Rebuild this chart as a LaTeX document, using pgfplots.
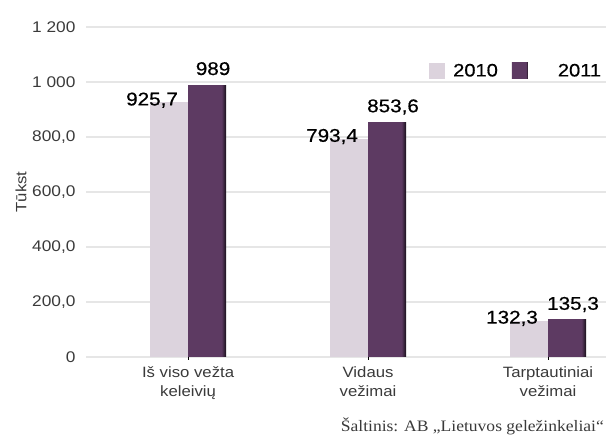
\documentclass[border=0pt]{standalone}
\usepackage{pgfplots}
\pgfplotsset{compat=1.18}
\usepackage{fontspec}
\setmainfont{Liberation Sans}[FakeStretch=1.12]
\newfontfamily\valfont{Liberation Sans}[FakeStretch=1.12, FakeBold=0.6]
\newfontfamily\srcfont{Liberation Serif}[FakeStretch=1.1]

\definecolor{cA}{HTML}{DCD3DD}
\definecolor{cB}{HTML}{5D3A62}
\definecolor{txt}{HTML}{3A3A3A}
\definecolor{gridc}{HTML}{E6E6E6}

% dark right edge of the 2011 bars
\pgfdeclarehorizontalshading{barB}{100bp}{color(0bp)=(cB); color(25bp)=(cB); color(69bp)=(cB); color(75bp)=(cB!25!black); color(100bp)=(cB!25!black)}

\pgfplotsset{
  sA/.style={fill=cA, draw=none, bar shift=-19bp,
    legend image code/.code={\fill[cA] (0bp,-8bp) rectangle (16bp,8bp);},
    every node near coord/.append style={anchor=base east, xshift=9bp, yshift=-3bp}},
  sB/.style={shading=barB, draw=none, bar shift=19bp,
    legend image code/.code={\fill[cB] (0bp,-8bp) rectangle (16bp,8bp);},
    every node near coord/.append style={anchor=base, xshift=6bp, yshift=10bp}},
}

\begin{document}
\begin{tikzpicture}
\useasboundingbox (0,0) rectangle (606bp,437bp);
\begin{axis}[
    at={(86bp,80bp)}, anchor=south west,
    scale only axis,
    width=520bp, height=330bp,
    ybar, bar width=38bp,
    xmin=-0.567, xmax=2.322,
    ymin=0, ymax=1200,
    axis line style={draw=none},
    ytick={0,200,...,1200},
    yticklabels={0,{200,0},{400,0},{600,0},{800,0},1 000,1 200},
    ymajorgrids,
    grid style={line width=2.5bp, gridc},
    ytick style={draw=none},
    yticklabel style={font=\fontsize{15.5}{17}\selectfont, text=txt, xshift=-4bp},
    xtick={0,1,2}, xtick pos=bottom,
    xticklabels={{Iš viso vežta\\keleivių},{Vidaus\\vežimai},{Tarptautiniai\\vežimai}},
    xticklabel style={align=center, font=\fontsize{15}{19}\selectfont, text=txt, yshift=-3bp},
    x tick style={black, line width=0.6bp},
    major tick length=3bp, tick align=outside,
    ylabel={Tūkst},
    ylabel style={at={(axis description cs:-0.125,0.5)}, anchor=center, font=\fontsize{15}{17}\selectfont, text=txt},
    nodes near coords,
    point meta=explicit symbolic,
    every node near coord/.append style={font=\valfont\fontsize{18.5}{20}\selectfont, text=black, inner sep=0pt},
    legend columns=2,
    legend style={at={(0.66,0.867)}, anchor=west, draw=none, fill=none,
        inner sep=0pt, outer sep=0pt,
        font=\valfont\fontsize{18}{20}\selectfont,
        nodes={inner sep=0pt},
        /tikz/every odd column/.append style={column sep=8bp},
        /tikz/every even column/.append style={column sep=14bp}},
]
\addplot[sA] coordinates {(0,925.7) [925,7]};
\addlegendentry{2010}
\addplot[sB] coordinates {(0,989) [989]};
\addlegendentry{\hspace{22bp}2011}
\addplot[sA, forget plot] coordinates {(1,793.4) [793,4]};
\addplot[sA, forget plot] coordinates {(2,132.3) [132,3]};
\addplot[sB, forget plot] coordinates {(1,853.6) [853,6]};
\addplot[sB, forget plot] coordinates {(2,135.3) [135,3]};
\end{axis}
\node[anchor=base east, inner sep=0pt, font=\srcfont\fontsize{16}{18}\selectfont, text=txt] at (604bp,6bp) {Šaltinis: AB „Lietuvos geležinkeliai“};
\end{tikzpicture}
\end{document}
